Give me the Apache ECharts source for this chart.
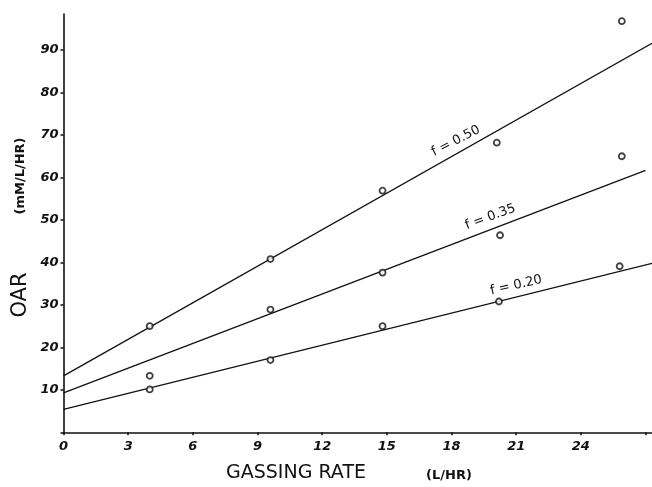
<!DOCTYPE html>
<html>
<head>
<meta charset="utf-8">
<script src="https://cdn.jsdelivr.net/npm/echarts@6/dist/echarts.min.js"></script>
<style>
html,body{margin:0;padding:0;background:#fff;}
#c{width:652px;height:487px;}
</style>
</head>
<body>
<div id="c"></div>
<script>
// Observed data points (gassing rate L/HR, OAR mM/L/HR)
const xF050 = [4.0, 9.6, 14.8, 20.1, 25.9];
const yF050 = [25.0, 40.8, 56.9, 68.2, 96.8];
const xF035 = [4.0, 9.6, 14.8, 20.25, 25.9];
const yF035 = [13.3, 28.9, 37.6, 46.4, 65.0];
const xF020 = [4.0, 9.6, 14.8, 20.2, 25.8];
const yF020 = [10.1, 17.0, 25.0, 30.8, 39.1];
// Fitted lines (start and end)
const lineF050 = [[0, 13.3], [27.3, 91.6]];
const lineF035 = [[0, 9.3], [27.0, 61.7]];
const lineF020 = [[0, 5.4], [27.3, 39.8]];
// Line labels (text, position in data units, rotation)
const lineLabels = ['f = 0.50', 'f = 0.35', 'f = 0.20'];
const labelPos = [[18.2, 68.6], [19.8, 50.7], [21.0, 34.6]];
const labelRot = [27, 20, 13];
// Axis tick values
const xTicks = [0, 3, 6, 9, 12, 15, 18, 21, 24];
const yTicks = [10, 20, 30, 40, 50, 60, 70, 80, 90];

const zip = (a, b) => a.map((v, i) => [v, b[i]]);
const FONT = '"DejaVu Sans", sans-serif';

const chart = echarts.init(document.getElementById('c'));

const pointSeries = [[xF050, yF050], [xF035, yF035], [xF020, yF020]].map(([xs, ys]) => ({
  type: 'scatter',
  data: zip(xs, ys),
  symbol: 'circle',
  symbolSize: 6,
  itemStyle: { color: '#fff', borderColor: '#111', borderWidth: 1.8 },
  z: 5
}));

const lineSeries = [lineF050, lineF035, lineF020].map((ln, i) => ({
  type: 'line',
  data: ln,
  symbol: 'none',
  lineStyle: { color: '#111', width: 1.3 },
  markPoint: {
    symbol: 'circle', symbolSize: 0,
    data: [{
      coord: labelPos[i],
      label: {
        show: true, formatter: lineLabels[i], rotate: labelRot[i],
        color: '#111', fontSize: 13, fontFamily: FONT, position: 'inside'
      }
    }]
  }
}));

chart.setOption({
  animation: false,
  backgroundColor: '#fff',
  grid: { left: 63.5, right: 0, top: 14, bottom: 54.7 },
  xAxis: {
    type: 'value', min: 0, max: 27.3, interval: 3,
    axisLine: { lineStyle: { color: '#111', width: 1.6 } },
    axisTick: { show: true, length: 3, lineStyle: { color: '#111', width: 1.5 } },
    splitLine: { show: false },
    axisLabel: {
      color: '#111', fontSize: 13, fontStyle: 'italic', fontWeight: 'bold', fontFamily: FONT, margin: 8,
      showMaxLabel: false,
      formatter: v => xTicks.includes(v) ? String(v) : ''
    }
  },
  yAxis: {
    type: 'value', min: 0, max: 98.5, interval: 10,
    axisLine: { show: true, lineStyle: { color: '#111', width: 1.6 } },
    axisTick: { show: true, length: 3, lineStyle: { color: '#111', width: 1.5 } },
    splitLine: { show: false },
    axisLabel: {
      color: '#111', fontSize: 13, fontStyle: 'italic', fontWeight: 'bold', fontFamily: FONT, margin: 5,
      showMaxLabel: false,
      formatter: v => yTicks.includes(v) ? String(v) : ''
    }
  },
  series: [...lineSeries, ...pointSeries],
  graphic: [
    { type: 'text', x: 296, y: 473, style: { text: 'GASSING RATE', fontSize: 19, fontFamily: FONT, fill: '#111', align: 'center', verticalAlign: 'middle' } },
    { type: 'text', x: 449, y: 476, style: { text: '(L/HR)', fontSize: 13, fontFamily: FONT, fill: '#111', fontWeight: 'bold', align: 'center', verticalAlign: 'middle' } },
    { type: 'text', x: 21, y: 295, rotation: Math.PI / 2, style: { text: 'OAR', fontSize: 21, fontFamily: FONT, fill: '#111', align: 'center', verticalAlign: 'middle' } },
    { type: 'text', x: 21, y: 176, rotation: Math.PI / 2, style: { text: '(mM/L/HR)', fontSize: 13, fontFamily: FONT, fill: '#111', fontWeight: 'bold', align: 'center', verticalAlign: 'middle' } }
  ]
});
</script>
</body>
</html>
